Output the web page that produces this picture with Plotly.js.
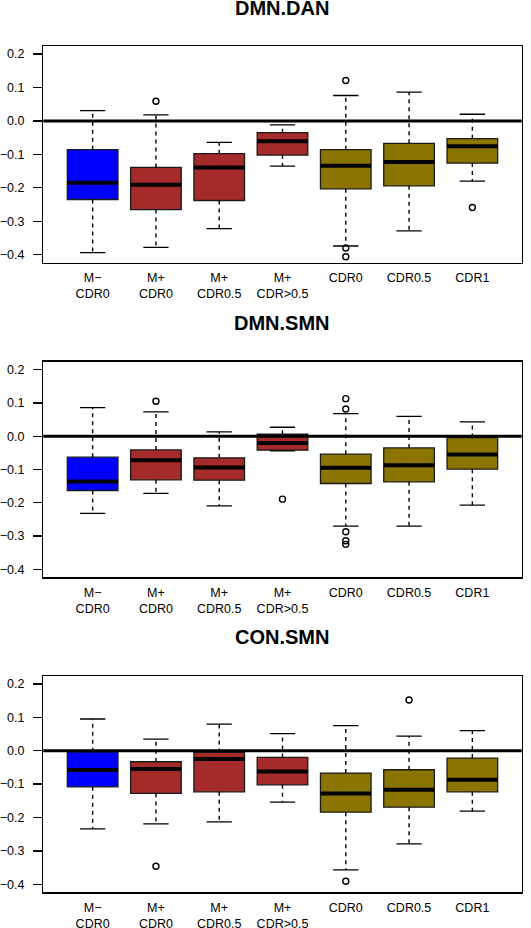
<!DOCTYPE html>
<html>
<head>
<meta charset="utf-8">
<script src="https://cdn.plot.ly/plotly-3.0.1.min.js"></script>
<style>html,body{margin:0;padding:0;background:#fff;}#chart{width:531px;height:928px;}</style>
</head>
<body>
<div id="chart"></div>
<script>
// Categories and tick labels
var categories = [1, 2, 3, 4, 5, 6, 7];
var tickLabels = ["M\u2212<br>CDR0", "M+<br>CDR0", "M+<br>CDR0.5", "M+<br>CDR>0.5", "CDR0", "CDR0.5", "CDR1"];
var boxColors = ["#0000FF", "#A52A2A", "#A52A2A", "#A52A2A", "#8B7500", "#8B7500", "#8B7500"];
var panelTitles = ["DMN.DAN", "DMN.SMN", "CON.SMN"];

// Panel 1: DMN.DAN
var danUpper  = [0.031, 0.018, -0.064, -0.012, 0.076, 0.086, 0.020];
var danQ3     = [-0.086, -0.139, -0.098, -0.035, -0.086, -0.067, -0.053];
var danMedian = [-0.185, -0.191, -0.139, -0.061, -0.134, -0.123, -0.076];
var danQ1     = [-0.235, -0.265, -0.238, -0.102, -0.203, -0.194, -0.126];
var danLower  = [-0.394, -0.378, -0.322, -0.135, -0.374, -0.329, -0.180];
var danOutliers = [[], [0.059], [], [], [0.121, -0.380, -0.406], [], [-0.259]];

// Panel 2: DMN.SMN
var smnUpper  = [0.086, 0.073, 0.013, 0.027, 0.068, 0.060, 0.043];
var smnQ3     = [-0.063, -0.041, -0.065, 0.006, -0.054, -0.035, -0.004];
var smnMedian = [-0.136, -0.072, -0.094, -0.020, -0.095, -0.087, -0.055];
var smnQ1     = [-0.163, -0.131, -0.132, -0.042, -0.142, -0.137, -0.099];
var smnLower  = [-0.232, -0.172, -0.209, -0.044, -0.270, -0.270, -0.207];
var smnOutliers = [[], [0.105], [], [-0.189], [0.113, 0.082, -0.287, -0.314, -0.325], [], []];

// Panel 3: CON.SMN
var conUpper  = [0.095, 0.035, 0.080, 0.051, 0.075, 0.044, 0.060];
var conQ3     = [-0.003, -0.033, -0.005, -0.020, -0.067, -0.057, -0.022];
var conMedian = [-0.058, -0.055, -0.025, -0.062, -0.128, -0.117, -0.087];
var conQ1     = [-0.108, -0.128, -0.123, -0.102, -0.184, -0.169, -0.123];
var conLower  = [-0.234, -0.219, -0.213, -0.154, -0.357, -0.279, -0.181];
var conOutliers = [[], [-0.346], [], [], [-0.391], [0.152], []];

var panels = [
  {upper: danUpper, q3: danQ3, med: danMedian, q1: danQ1, lower: danLower, out: danOutliers},
  {upper: smnUpper, q3: smnQ3, med: smnMedian, q1: smnQ1, lower: smnLower, out: smnOutliers},
  {upper: conUpper, q3: conQ3, med: conMedian, q1: conQ1, lower: conLower, out: conOutliers}
];

var BOXW = 0.8, STAPLE = 0.4;
var traces = [];
panels.forEach(function(p, k) {
  var xa = k === 0 ? 'x' : 'x' + (k + 1);
  var ya = k === 0 ? 'y' : 'y' + (k + 1);
  var wx = [], wy = [], sx = [], sy = [], mx = [], my = [], ox = [], oy = [];
  categories.forEach(function(c, i) {
    traces.push({
      type: 'box', xaxis: xa, yaxis: ya, x: [c],
      q1: [p.q1[i]], median: [p.med[i]], q3: [p.q3[i]],
      lowerfence: [p.q1[i]], upperfence: [p.q3[i]],
      width: BOXW, whiskerwidth: 0, fillcolor: boxColors[i],
      line: {color: '#1a1a1a', width: 1.3}, boxpoints: false,
      hoverinfo: 'skip', showlegend: false
    });
    wx.push(c, c, null, c, c, null);
    wy.push(p.q3[i], p.upper[i], null, p.q1[i], p.lower[i], null);
    sx.push(c - STAPLE / 2, c + STAPLE / 2, null, c - STAPLE / 2, c + STAPLE / 2, null);
    sy.push(p.upper[i], p.upper[i], null, p.lower[i], p.lower[i], null);
    mx.push(c - BOXW / 2, c + BOXW / 2, null);
    my.push(p.med[i], p.med[i], null);
    p.out[i].forEach(function(v) { ox.push(c); oy.push(v); });
  });
  traces.push({type: 'scatter', mode: 'lines', xaxis: xa, yaxis: ya, x: wx, y: wy,
    line: {color: '#000', width: 1.4, dash: '4px,4px'}, hoverinfo: 'skip', showlegend: false});
  traces.push({type: 'scatter', mode: 'lines', xaxis: xa, yaxis: ya, x: sx, y: sy,
    line: {color: '#000', width: 1.3}, hoverinfo: 'skip', showlegend: false});
  traces.push({type: 'scatter', mode: 'lines', xaxis: xa, yaxis: ya, x: mx, y: my,
    line: {color: '#000', width: 4}, hoverinfo: 'skip', showlegend: false});
  traces.push({type: 'scatter', mode: 'markers', xaxis: xa, yaxis: ya, x: ox, y: oy,
    marker: {symbol: 'circle-open', size: 6, color: '#000', line: {width: 1.4, color: '#000'}},
    hoverinfo: 'skip', showlegend: false});
});

var font = {family: 'Liberation Sans, Arial, sans-serif', size: 12.5, color: '#000'};
var xDomain = [0.0815, 0.9825];
var yDomains = [[0.7169, 0.9504], [0.3779, 0.6102], [0.0385, 0.2716]];

function xAxis(anchor) {
  return {domain: xDomain, range: [0.22, 7.78], anchor: anchor, showgrid: false, zeroline: false,
    showline: true, mirror: true, linecolor: '#000', linewidth: 1.3, ticks: '',
    tickmode: 'array', tickvals: categories, ticktext: tickLabels, tickfont: font,
    ticklabelstandoff: 3, fixedrange: true};
}
function yAxis(anchor, dom) {
  return {domain: dom, range: [-0.424, 0.224], anchor: anchor, showgrid: false, zeroline: false,
    showline: true, mirror: true, linecolor: '#000', linewidth: 1.3, ticks: 'outside',
    ticklen: 9, tickwidth: 1.3, tickcolor: '#000', tickvals: [-0.4, -0.3, -0.2, -0.1, 0, 0.1, 0.2],
    tickformat: '.1f', tickfont: font, ticklabelstandoff: 6, fixedrange: true};
}

var shapes = [], annotations = [];
for (var k = 0; k < 3; k++) {
  var xr = k === 0 ? 'x' : 'x' + (k + 1);
  var yr = k === 0 ? 'y' : 'y' + (k + 1);
  shapes.push({type: 'line', xref: xr + ' domain', yref: yr, x0: 0, x1: 1, y0: 0, y1: 0,
    line: {color: '#000', width: 3}});
  annotations.push({text: '<b>' + panelTitles[k] + '</b>', xref: 'paper', yref: 'paper',
    x: (xDomain[0] + xDomain[1]) / 2, y: yDomains[k][1] + 38.5 / 928, xanchor: 'center', yanchor: 'middle',
    showarrow: false, font: {family: 'Liberation Sans, Arial, sans-serif', size: 20, color: '#000'}});
}

var layout = {
  width: 531, height: 928, margin: {l: 0, r: 0, t: 0, b: 0},
  paper_bgcolor: '#fff', plot_bgcolor: '#fff', showlegend: false, font: font,
  xaxis: xAxis('y'), yaxis: yAxis('x', yDomains[0]),
  xaxis2: xAxis('y2'), yaxis2: yAxis('x2', yDomains[1]),
  xaxis3: xAxis('y3'), yaxis3: yAxis('x3', yDomains[2]),
  shapes: shapes, annotations: annotations
};

Plotly.newPlot('chart', traces, layout, {displayModeBar: false, staticPlot: true});
</script>
</body>
</html>
